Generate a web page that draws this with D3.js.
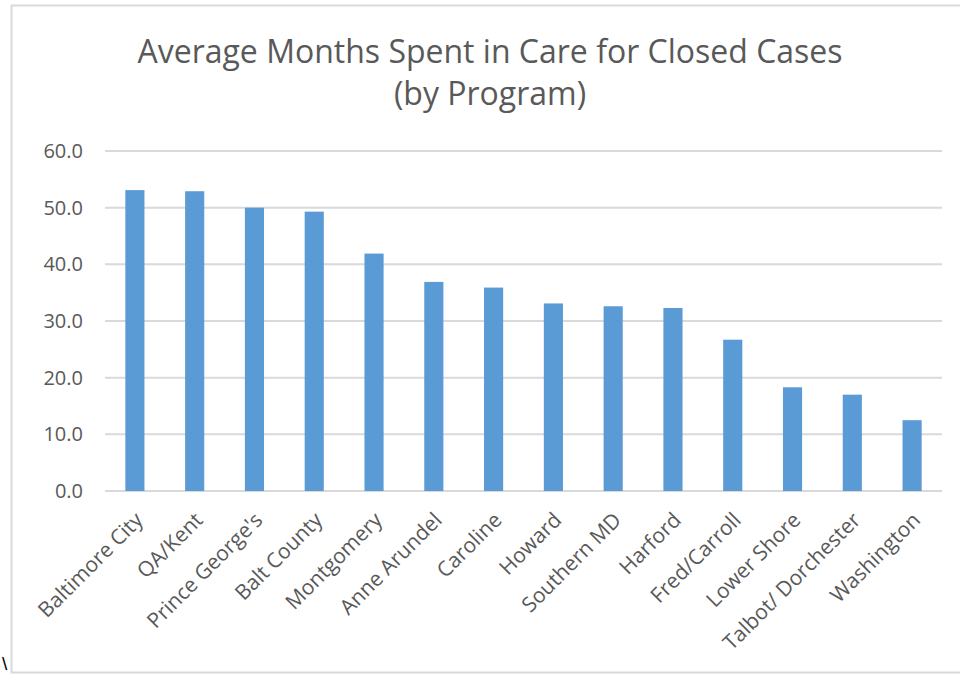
<!DOCTYPE html>
<html>
<head>
<meta charset="utf-8">
<script src="https://cdn.jsdelivr.net/npm/d3@7"></script>
<style>
  body { margin: 0; background: #fff; }
  svg { display: block; font-family: "Open Sans", "Liberation Sans", sans-serif; }
</style>
</head>
<body>
<div id="chart"></div>
<script>
'use strict';

// 各项目名称
const programs = [
    'Baltimore City', 'QA/Kent', "Prince George's", 'Balt County', 'Montgomery',
    'Anne Arundel', 'Caroline', 'Howard', 'Southern MD', 'Harford',
    'Fred/Carroll', 'Lower Shore', 'Talbot/ Dorchester', 'Washington'
];

// 平均月数
const months = [53.1, 52.9, 50.0, 49.3, 41.9, 36.9, 35.9, 33.1, 32.6, 32.3, 26.7, 18.3, 17.0, 12.5];

const yTicks = [0, 10, 20, 30, 40, 50, 60];

const titleLines = ['Average Months Spent in Care for Closed Cases', '(by Program)'];

(function () {
    const width = 960;
    const height = 677;
    const plot = { left: 105, right: 942, top: 151, bottom: 491 };

    var svg = d3.select('#chart').append('svg')
        .attr('width', width)
        .attr('height', height);

    // 外框
    svg.append('rect')
        .attr('x', 11.5).attr('y', 5.5)
        .attr('width', 960).attr('height', 667)
        .attr('fill', '#fff')
        .attr('stroke', '#d9d9d9')
        .attr('stroke-width', 2);

    svg.append('text')
        .attr('x', 2).attr('y', 670)
        .attr('font-family', '"Liberation Sans", sans-serif')
        .attr('font-size', 19)
        .attr('fill', '#000')
        .text('\\');

    var x = d3.scaleBand()
        .domain(programs)
        .range([plot.left, plot.right])
        .paddingInner(0.68)
        .paddingOuter(0.34);

    var y = d3.scaleLinear()
        .domain([0, 60])
        .range([plot.bottom, plot.top]);

    // 网格线
    svg.append('g')
        .selectAll('line')
        .data(yTicks)
        .enter().append('line')
        .attr('x1', plot.left)
        .attr('x2', plot.right)
        .attr('y1', d => y(d))
        .attr('y2', d => y(d))
        .attr('stroke', '#d9d9d9')
        .attr('stroke-width', 2);

    // y 轴标签
    var yAxis = d3.axisLeft(y)
        .tickValues(yTicks)
        .tickFormat(d3.format('.1f'))
        .tickSize(0)
        .tickPadding(22);

    var gy = svg.append('g')
        .attr('transform', 'translate(' + plot.left + ',0)')
        .call(yAxis);
    gy.select('.domain').remove();
    gy.selectAll('text')
        .attr('font-family', '"Open Sans", sans-serif')
        .attr('font-size', 20)
        .attr('fill', '#595959');

    // 柱子
    svg.append('g')
        .selectAll('rect')
        .data(programs)
        .enter().append('rect')
        .attr('x', d => x(d))
        .attr('y', (d, i) => y(months[i]))
        .attr('width', x.bandwidth())
        .attr('height', (d, i) => y(0) - y(months[i]))
        .attr('fill', '#5b9bd5');

    // x 轴标签
    var xAxis = d3.axisBottom(x).tickSize(0).tickPadding(0);
    var gx = svg.append('g')
        .attr('transform', 'translate(0,' + plot.bottom + ')')
        .call(xAxis);
    gx.select('.domain').remove();
    gx.selectAll('text')
        .attr('font-family', '"Open Sans", sans-serif')
        .attr('font-size', 21)
        .attr('fill', '#595959')
        .attr('text-anchor', 'end')
        .attr('dy', '0.7em')
        .attr('transform', 'translate(-1,20) rotate(-45)');

    // 标题
    svg.append('g')
        .selectAll('text')
        .data(titleLines)
        .enter().append('text')
        .attr('x', 490)
        .attr('y', (d, i) => 63 + i * 42)
        .attr('text-anchor', 'middle')
        .attr('font-size', 32)
        .attr('fill', '#595959')
        .text(d => d);
})();
</script>
</body>
</html>
